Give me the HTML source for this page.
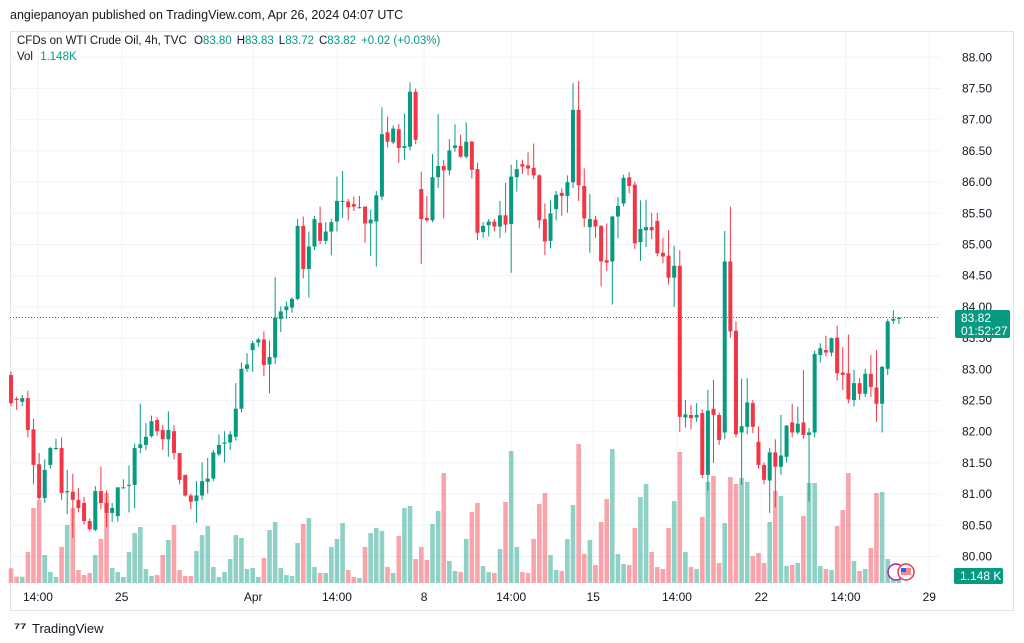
<!DOCTYPE html>
<html><head><meta charset="utf-8"><style>
body{margin:0;background:#fff;width:1024px;height:643px;overflow:hidden;font-family:"Liberation Sans",sans-serif}
svg{display:block}
</style></head><body>
<svg id="chart" width="1024" height="643" xmlns="http://www.w3.org/2000/svg" font-family="Liberation Sans, sans-serif">
<rect x="0" y="0" width="1024" height="643" fill="#fff"/>
<text x="10" y="19" font-size="12.5" fill="#131722">angiepanoyan published on TradingView.com, Apr 26, 2024 04:07 UTC</text>
<rect x="10.5" y="31.5" width="1003" height="579" fill="none" stroke="#e0e3eb"/>
<g id="grid"></g>
<g id="vol"></g>
<line x1="10" x2="940" y1="317.5" y2="317.5" stroke="#089981" stroke-dasharray="1,2"/>
<g id="candles"></g>
<g id="yaxis"></g>
<g id="xaxis"></g>
<text x="17" y="44" font-size="11.5" fill="#131722">CFDs on WTI Crude Oil, 4h, TVC <tspan dx="4">O</tspan><tspan fill="#089981">83.80</tspan><tspan dx="5">H</tspan><tspan fill="#089981">83.83</tspan><tspan dx="5">L</tspan><tspan fill="#089981">83.72</tspan><tspan dx="5">C</tspan><tspan fill="#089981">83.82</tspan><tspan dx="5" fill="#089981">+0.02 (+0.03%)</tspan></text>
<text x="17" y="60" font-size="11.5" fill="#131722">Vol <tspan dx="4" fill="#089981">1.148K</tspan></text>
<g>
<rect x="955" y="310" width="55" height="28" rx="2" fill="#089981"/>
<text x="961" y="322" font-size="12" fill="#fff">83.82</text>
<text x="961" y="335" font-size="12" fill="#fff">01:52:27</text>
</g>
<g>
<rect x="954" y="568" width="49" height="16" rx="2" fill="#089981"/>
<text x="960" y="580" font-size="12" fill="#fff">1.148 K</text>
</g>
<g>
<circle cx="896" cy="572" r="8" fill="#fff" stroke="#9c27b0" stroke-width="1.5"/>
<circle cx="906" cy="572" r="8" fill="#fff" stroke="#f23645" stroke-width="1.5"/>
<rect x="901" y="568" width="10" height="7" fill="#f23645" opacity="0.6"/>
<rect x="901" y="568" width="5" height="4" fill="#2962ff"/>
</g>
<g>
<text x="14" y="633" font-size="15" font-weight="bold" fill="#131722">⁷⁷</text>
<text x="32" y="633" font-size="13" fill="#131722">TradingView</text>
</g>
</svg>
<script>
const opens=[82.90,82.52,82.47,82.53,82.03,81.47,80.93,81.46,81.73,81.73,81.02,81.03,80.90,80.85,80.56,80.42,81.04,80.85,80.69,80.64,81.10,81.14,81.14,81.73,81.78,81.92,82.18,82.02,81.87,82.00,81.65,81.30,80.97,80.88,80.97,81.19,81.24,81.63,81.80,81.82,81.91,82.36,83.00,83.30,83.42,83.47,83.07,83.18,83.80,83.94,83.98,84.12,85.29,84.60,84.96,85.34,85.05,85.20,85.36,85.69,85.68,85.64,85.59,85.60,85.33,85.36,85.76,86.79,86.63,86.84,86.54,86.56,87.44,85.88,85.42,85.38,86.07,86.25,86.18,86.54,86.57,86.40,86.64,86.20,85.19,85.30,85.36,85.28,85.46,85.32,86.07,86.28,86.26,86.22,86.10,85.40,85.05,85.56,85.82,85.77,85.99,87.15,85.93,85.27,85.39,85.29,84.74,84.72,85.44,85.65,86.07,85.95,85.03,85.22,85.27,85.37,84.86,84.81,84.46,84.65,82.22,82.26,82.22,82.29,81.30,82.36,82.26,81.98,84.72,83.61,81.98,82.07,82.45,81.83,81.46,81.21,81.66,81.43,81.59,82.14,81.98,82.14,81.94,81.98,83.22,83.30,83.26,83.50,82.94,82.93,82.50,82.77,82.60,82.92,82.70,82.44,83.00,83.77,83.80];
const closes=[82.45,82.50,82.53,82.02,81.46,80.93,81.38,81.73,81.73,81.01,81.04,80.90,80.77,80.56,80.43,81.04,80.85,80.69,80.77,81.10,81.10,81.14,81.73,81.79,81.91,82.16,82.00,81.87,82.02,81.65,81.22,80.97,80.87,80.97,81.20,81.24,81.66,81.78,81.82,81.95,82.36,83.00,83.07,83.41,83.47,83.06,83.19,83.82,83.92,84.00,84.12,85.29,84.60,84.96,85.40,85.05,85.20,85.35,85.69,85.69,85.59,85.60,85.59,85.33,85.39,85.78,86.76,86.64,86.85,86.54,86.57,87.44,86.67,85.40,85.38,86.07,86.25,86.18,86.50,86.58,86.40,86.64,86.19,85.18,85.29,85.36,85.28,85.46,85.31,86.08,86.20,86.24,86.21,86.10,85.38,85.04,85.49,85.79,85.77,85.99,87.15,85.94,85.41,85.40,85.28,84.72,84.70,85.44,85.61,86.06,85.93,85.01,85.24,85.27,85.22,84.85,84.80,84.46,84.65,82.23,82.27,82.21,82.26,81.30,82.33,82.26,81.86,84.72,83.60,81.95,82.08,82.46,82.07,81.46,81.22,81.66,81.43,81.61,82.09,81.98,82.12,81.94,81.98,83.24,83.33,83.26,83.49,82.93,82.90,82.51,82.77,82.60,82.92,82.71,82.44,83.03,83.76,83.80,83.82];
const highs=[82.95,82.55,82.58,82.65,82.20,81.65,81.55,81.75,81.88,81.90,81.38,81.32,81.09,80.95,80.60,81.12,81.43,81.05,80.85,81.10,81.23,81.45,81.80,82.44,82.13,82.25,82.22,82.10,82.32,82.10,81.65,81.30,81.00,81.20,81.50,81.57,81.70,81.95,82.00,82.00,82.77,83.10,83.25,83.45,83.50,83.60,83.45,84.47,84.00,84.08,84.15,85.40,85.44,85.20,85.45,85.60,85.35,85.40,86.08,86.17,85.72,85.76,85.77,85.60,85.55,85.85,87.19,87.04,86.90,86.92,87.09,87.59,87.49,86.16,85.77,86.44,87.08,86.35,86.68,86.92,86.75,86.95,86.65,86.30,85.35,85.40,85.40,85.69,85.98,86.27,86.35,86.35,86.47,86.61,86.12,85.65,85.70,85.85,85.89,86.10,87.58,87.61,86.21,85.80,85.45,85.30,85.33,85.45,85.75,86.11,86.15,86.00,85.70,85.71,85.50,85.50,85.10,85.22,84.97,84.90,82.50,82.42,82.45,82.35,82.66,82.82,82.30,85.21,85.60,83.76,82.84,82.85,82.50,82.08,81.50,81.73,81.87,82.26,82.10,82.44,82.39,82.98,82.05,83.29,83.41,83.53,83.50,83.69,83.35,83.55,82.98,82.85,83.00,83.22,83.30,83.05,83.80,83.94,83.83];
const lows=[82.40,82.34,82.40,81.90,81.15,80.90,80.85,81.40,81.70,80.90,80.67,80.29,80.70,80.50,80.40,80.40,80.75,80.46,80.55,80.55,81.08,80.70,80.77,81.65,81.70,81.90,81.93,81.70,81.59,81.55,81.15,80.95,80.75,80.53,80.90,81.00,81.20,81.60,81.50,81.70,81.85,82.30,82.95,82.95,83.35,82.88,82.61,83.08,83.59,83.80,83.90,84.10,84.45,84.14,84.90,85.00,85.00,84.82,85.20,85.42,85.38,85.53,85.57,85.02,84.81,84.64,85.70,86.55,86.60,86.30,86.35,86.50,86.60,84.68,85.35,85.35,85.90,85.41,86.10,86.48,86.38,86.37,86.05,85.06,85.10,85.12,85.20,85.10,85.18,84.54,85.84,86.12,86.10,86.04,85.25,84.82,84.93,85.38,85.45,85.50,85.90,85.69,85.27,84.86,85.10,84.32,84.57,84.03,85.09,85.60,85.81,84.92,84.73,84.95,85.08,84.80,84.69,84.35,83.99,81.99,82.06,82.03,82.15,81.25,81.05,81.49,81.78,81.87,83.50,81.90,81.14,81.95,81.97,81.40,81.15,80.69,80.78,81.30,81.50,81.90,81.95,81.88,80.87,81.90,83.10,83.20,83.20,82.81,82.66,82.45,82.40,82.50,82.55,82.55,82.15,81.98,82.90,83.72,83.72];
const volumes=[14.7,6.3,6.3,31,75,83,28,11,6,36,58,75,13,8,10,28,44,90,15,11,6,31,50,56,14,7,8,28,43,58,13,7,7,32,48,57,16,6,11,24,48,45,14,15,6,25,53,61,15,8,7,40,59,65,16,10,10,36,44,60,13,6,5,36,50,55,52,16,10,47,75,77,24,36,23,59,72,110,22,12,11,44,71,80,17,11,10,34,81,132,36,11,10,44,79,90,28,13,12,44,78,139,29,43,18,61,84,134,29,19,18,55,86,99,31,16,14,55,82,131,31,16,14,66,101,107,20,60,106,99,105,101,27,30,20,61,92,87,17,18,20,67,100,100,17,14,13,57,73,110,22,12,14,35,90,91,24,10,10];
const priceTicks=[80,80.5,81,81.5,82,82.5,83,83.5,84,84.5,85,85.5,86,86.5,87,87.5,88];
const timeLabels=["14:00","25","Apr","14:00","8","14:00","15","14:00","22","14:00","29"];
const timeLabelIdx=[4.8,19.7,43.1,58,73.5,89,103.6,118.5,133.5,148.5,163.4];

const NS="http://www.w3.org/2000/svg";
const yP=p=>556-(p-80)*62.4;
const xI=i=>11+i*5.62;
const volBase=583, volScale=1.0;
const yV=v=>volBase-v*volScale;
const UP="#089981", DN="#F23645";
function mk(tag,attrs,parent){const e=document.createElementNS(NS,tag);for(const k in attrs)e.setAttribute(k,attrs[k]);parent.appendChild(e);return e;}
const grid=document.getElementById('grid'),vol=document.getElementById('vol'),cg=document.getElementById('candles'),ya=document.getElementById('yaxis'),xa=document.getElementById('xaxis');
priceTicks.forEach(p=>{
  const l=mk('line',{x1:10,x2:940,y1:yP(p)+0.5,y2:yP(p)+0.5,stroke:'#f0f3fa'},grid);
  
  
  const t=mk('text',{x:962,y:yP(p)+4.5,'font-size':12,fill:'#131722'},ya);
  t.textContent=p.toFixed(2);
  
  
});
timeLabels.forEach((s,k)=>{
  const x=xI(timeLabelIdx[k]);
  const l=mk('line',{x1:x,x2:x,y1:32,y2:585,stroke:'#f0f3fa'},grid);
  
  
  const t=mk('text',{x:x,y:601,'font-size':12,fill:'#131722','text-anchor':'middle'},xa);
  t.textContent=s;
  
  
});
for(let i=0;i<opens.length;i++){
  const up=closes[i]>=opens[i], c=up?UP:DN, x=xI(i);
  const vb=mk('rect',{x:x-2.3,y:yV(volumes[i]),width:4.6,height:volumes[i]*volScale,fill:c,opacity:0.45},vol);
  
  
  const w=mk('line',{x1:x,x2:x,y1:yP(highs[i]),y2:yP(lows[i]),stroke:c,'stroke-width':1},cg);
  
  
  const top=yP(Math.max(opens[i],closes[i])),bot=yP(Math.min(opens[i],closes[i]));
  const b=mk('rect',{x:x-2,y:top,width:4,height:Math.max(1,bot-top),fill:c},cg);
  
  
}
</script>
</body></html>
